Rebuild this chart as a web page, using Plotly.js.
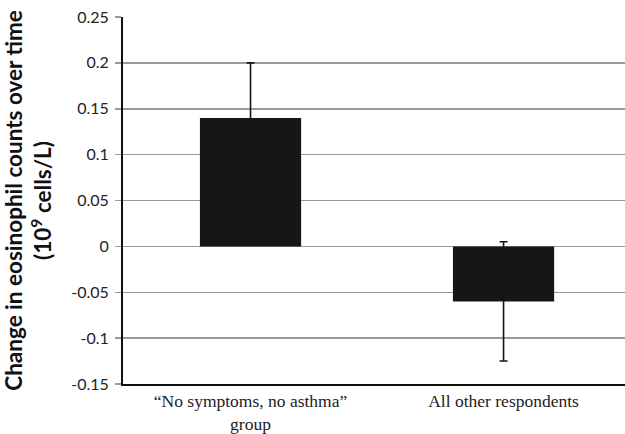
<!DOCTYPE html>
<html>
<head>
<meta charset="utf-8">
<script src="https://cdn.plot.ly/plotly-3.0.1.min.js"></script>
<style>html,body{margin:0;padding:0;background:#fff;}#chart{width:625px;height:434px;}</style>
</head>
<body>
<div id="chart"></div>
<script>
var categories = ["\u201cNo symptoms, no asthma\u201d<br>group", "All other respondents"];
var values = [0.14, -0.06];
var errorPlus = [0.06, 0.065];
var errorMinus = [0.06, 0.065];
var yTickVals = [-0.15, -0.1, -0.05, 0, 0.05, 0.1, 0.15, 0.2, 0.25];
var yTickText = ["-0.15", "-0.1", "-0.05", "0", "0.05", "0.1", "0.15", "0.2", "0.25"];

var trace = {
  type: "bar",
  x: [0, 1],
  y: values,
  width: 0.4,
  marker: {color: "#161616", line: {color: "#161616", width: 0}},
  error_y: {type: "data", symmetric: false, array: errorPlus, arrayminus: errorMinus,
            color: "#161616", thickness: 1.6, width: 4},
  hoverinfo: "none"
};

var layout = {
  width: 625, height: 434,
  margin: {l: 123, r: 0, t: 17, b: 50},
  paper_bgcolor: "#fff", plot_bgcolor: "#fff",
  showlegend: false,
  xaxis: {
    range: [-0.504, 1.48],
    tickvals: [0, 1], ticktext: categories,
    tickfont: {family: "Liberation Serif, Times New Roman, serif", size: 17.5, color: "#222"},
    showgrid: false, zeroline: false,
    showline: true, linecolor: "#111", linewidth: 2,
    ticks: "", ticklen: 0, fixedrange: true
  },
  yaxis: {
    range: [-0.15, 0.25],
    tickvals: yTickVals, ticktext: yTickText,
    tickfont: {family: "Lato, Open Sans, sans-serif", size: 16, color: "#222"},
    showgrid: true, gridcolor: "#9a9a9a", gridwidth: 1.5,
    zeroline: false,
    showline: true, linecolor: "#111", linewidth: 2,
    ticks: "outside", ticklen: 6, tickcolor: "#9a9a9a", tickwidth: 1.5,
    ticklabelstandoff: 3,
    title: {text: "<b>Change in eosinophil counts over time<br>(10<sup>9</sup> cells/L)</b>",
            font: {family: "Lato, Open Sans, sans-serif", size: 22.5, color: "#111"}, standoff: 13},
    fixedrange: true
  }
};

Plotly.newPlot("chart", [trace], layout, {displayModeBar: false, staticPlot: true});
</script>
</body>
</html>
